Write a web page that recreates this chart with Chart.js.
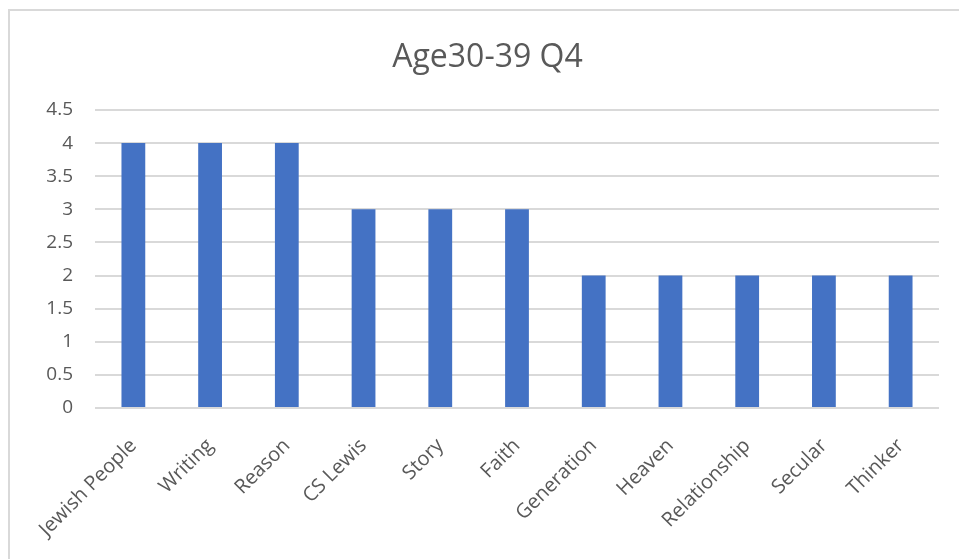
<!DOCTYPE html>
<html>
<head>
<meta charset="utf-8">
<title>Age30-39 Q4</title>
<script src="https://cdn.jsdelivr.net/npm/chart.js@4/dist/chart.umd.min.js"></script>
<style>
  html, body { margin: 0; padding: 0; background: #fff; overflow: hidden; }
  #frame {
    position: absolute;
    left: 8px;
    top: 9px;
    width: 1000px;
    height: 600px;
    border: 2px solid #d9d9d9;
    box-sizing: border-box;
  }
  #chartAge {
    position: absolute;
    left: 0;
    top: 0;
  }
</style>
</head>
<body>
<div id="frame"></div>
<canvas id="chartAge" width="959" height="559"></canvas>
<script>
// ================================================
// Data
// ================================================

const categories = ['Jewish People', 'Writing', 'Reason', 'CS Lewis', 'Story', 'Faith',
  'Generation', 'Heaven', 'Relationship', 'Secular', 'Thinker'];
const counts = [4, 4, 4, 3, 3, 3, 2, 2, 2, 2, 2];
const yTicks = { min: 0, max: 4.5, step: 0.5 };

const textGray = '#595959';
const gridGray = '#d9d9d9';
const barBlue = '#4472C4';

// ================================================
// Chart
// ================================================

document.addEventListener('DOMContentLoaded', function() {
  const ctx = document.getElementById('chartAge');

  new Chart(ctx, {
    type: 'bar',
    data: {
      labels: categories,
      datasets: [
        {
          label: 'Age30-39 Q4',
          data: counts,
          backgroundColor: barBlue,
          borderWidth: 0,
          categoryPercentage: 1,
          barPercentage: 0.31
        }
      ]
    },
    options: {
      responsive: false,
      animation: false,
      layout: {
        // left/right split keeps the title centred on the frame
        padding: { left: 36, right: 20, top: 0, bottom: 0 }
      },
      plugins: {
        legend: { display: false },
        tooltip: { enabled: false },
        title: {
          display: true,
          text: 'Age30-39 Q4',
          color: textGray,
          font: { family: '"Open Sans", sans-serif', size: 32, weight: 'normal' },
          padding: { top: 39, bottom: 32.6 }
        }
      },
      scales: {
        y: {
          min: yTicks.min,
          max: yTicks.max,
          border: { display: false },
          grid: {
            color: gridGray,
            lineWidth: 2,
            drawTicks: false
          },
          ticks: {
            stepSize: yTicks.step,
            padding: 22,
            color: textGray,
            font: { family: '"Open Sans", sans-serif', size: 19 },
            callback: function(value) {
              return String(value);
            }
          },
          afterFit: function(scale) {
            scale.width = 59;
          }
        },
        x: {
          border: { display: false },
          grid: { display: false },
          ticks: {
            minRotation: 45,
            maxRotation: 45,
            padding: 18,
            color: textGray,
            font: { family: '"Open Sans", sans-serif', size: 20 }
          },
          afterFit: function(scale) {
            scale.height = 559 - 408;
          }
        }
      }
    }
  });
});
</script>
</body>
</html>
